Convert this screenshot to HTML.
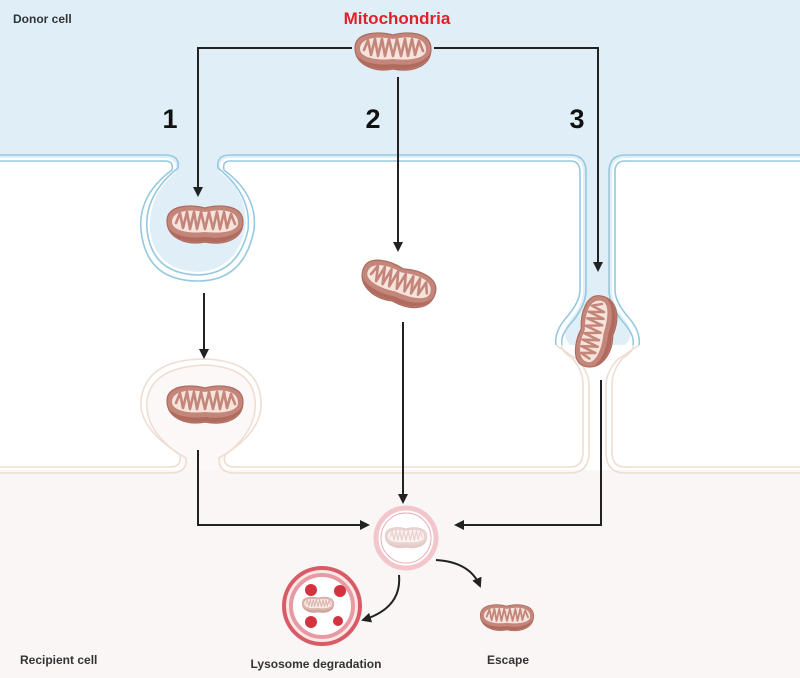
<!DOCTYPE html>
<html><head><meta charset="utf-8"><style>
body{margin:0;background:#fff}
svg{display:block}
text{font-family:"Liberation Sans",sans-serif;font-weight:bold}
</style></head><body>
<svg width="800" height="678" viewBox="0 0 800 678" xmlns="http://www.w3.org/2000/svg">
<defs>
<g id="mito">
<path d="M-38,-4 C-38,-20 -15,-21 0,-17 C15,-21 38,-20 38,-3 C38,14 20,21 0,17 C-20,21 -38,12 -38,-4Z" fill="#c4867a" stroke="#ad6b5f" stroke-width="1.2"/>
<path d="M-36,4 C-30,15 -15,19 0,16 C18,20 34,13 37,2 C30,12 15,14 0,12 C-18,14 -30,10 -36,4Z" fill="#b06a5e"/>
<path d="M-33,-3 C-33,-15 -14,-16 0,-13 C14,-16 33,-16 33,-2 C33,6 18,9 0,7 C-18,9 -33,5 -33,-3Z" fill="#f6e4dc"/>
<polyline points="-29,-2 -25,-12 -22,3 -18,-13 -15,4 -11,-13 -8,4 -4,-13 0,4 4,-13 8,4 12,-13 15,4 19,-13 22,3 26,-11 30,-1" fill="none" stroke="#c4867a" stroke-width="2.6" stroke-linejoin="round" stroke-linecap="round"/>
</g>
<marker id="ah" markerWidth="10" markerHeight="10" refX="8" refY="5" orient="auto" markerUnits="userSpaceOnUse"><path d="M0,0 L10,5 L0,10 Z" fill="#222"/></marker>
</defs>
<!-- recipient background -->
<rect x="0" y="470" width="800" height="208" fill="#faf6f6"/>
<!-- vesicle 2 interior -->
<path d="M183,470 Q182,458 180,455 Q144,430 147,400 Q152,367 205,365 Q252,367 255,400 Q258,430 225,455 Q222,465 222,470Z" fill="#fcf8f7"/>
<!-- donor top fill -->
<path d="M0,0 H800 V158 H625 Q612,158 612,172 V290 Q612,305 625,320 Q636,335 625,345 H570 Q560,335 570,320 Q583,305 583,290 V172 Q583,158 570,158 H230 Q218,158 220,172 Q250,195 245,230 Q235,270 198,272 Q155,270 150,230 Q148,195 176,172 Q178,158 165,158 H0Z" fill="#e0eff7"/>
<!-- blue membrane -->
<g fill="none" stroke="#95c8e1" stroke-width="1.6">
<path d="M0,155 H165 Q180,155 178,168 Q144,195 147,230 Q152,274 198,275 Q238,274 248,230 Q252,195 218,168 Q216,155 230,155 H570 Q586,155 586,172 V290 Q586,305 572,322 Q560,335 562,345"/>
<path d="M0,161 H165 Q174,161 172,170 Q138,195 141,230 Q146,281 198,281 Q244,281 254,230 Q258,195 224,170 Q222,161 230,161 H570 Q580,161 580,172 V290 Q580,302 566,318 Q554,332 556,345"/>
<path d="M800,155 H625 Q609,155 609,172 V290 Q609,305 623,322 Q635,335 633,345"/>
<path d="M800,161 H625 Q615,161 615,172 V290 Q615,302 629,318 Q641,332 639,345"/>
</g>
<!-- beige membrane -->
<g fill="none" stroke="#eeddd2" stroke-width="1.6">
<path d="M0,467 H170 Q182,467 180,455 Q144,430 147,400 Q152,367 205,365 Q252,367 255,400 Q258,430 225,455 Q222,467 235,467 H570 Q583,467 583,452 V385 Q583,370 572,358 Q560,350 562,345"/>
<path d="M0,473 H170 Q188,473 186,458 Q138,430 141,400 Q146,359 205,359 Q258,361 261,400 Q264,432 219,458 Q218,473 235,473 H570 Q589,473 589,452 V385 Q589,373 578,360 Q566,352 556,345"/>
<path d="M800,467 H625 Q612,467 612,452 V385 Q612,370 623,358 Q635,350 633,345"/>
<path d="M800,473 H625 Q606,473 606,452 V385 Q606,373 617,360 Q629,352 639,345"/>
</g>
<!-- mitochondria -->
<use href="#mito" transform="translate(393,52)"/>
<use href="#mito" transform="translate(205,225)"/>
<use href="#mito" transform="translate(398,285) rotate(18)"/>
<use href="#mito" transform="translate(597,332) rotate(-78) scale(0.95)"/>
<use href="#mito" transform="translate(205,405)"/>
<use href="#mito" transform="translate(507,618) scale(0.7)"/>
<!-- endosome -->
<circle cx="406" cy="538" r="30" fill="#fff" stroke="#f2c7cc" stroke-width="5"/>
<circle cx="406" cy="538" r="25" fill="none" stroke="#e9a9b0" stroke-width="1"/>
<g opacity="0.35"><use href="#mito" transform="translate(406,538) scale(0.55)"/></g>
<!-- lysosome -->
<circle cx="322" cy="606" r="38" fill="#fbe9ea" stroke="#d85b66" stroke-width="4"/>
<circle cx="322" cy="606" r="31" fill="#fff" stroke="#e89aa2" stroke-width="4"/>
<g opacity="0.6"><use href="#mito" transform="translate(318,605) scale(0.42)"/></g>
<g fill="#d3323f">
<circle cx="311" cy="590" r="6"/><circle cx="340" cy="591" r="6"/><circle cx="311" cy="622" r="6"/><circle cx="338" cy="621" r="5"/>
</g>
<!-- arrows -->
<g fill="none" stroke="#222" stroke-width="2">
<path d="M352,48 H198 V195" marker-end="url(#ah)"/>
<path d="M398,77 V250" marker-end="url(#ah)"/>
<path d="M434,48 H598 V270" marker-end="url(#ah)"/>
<path d="M204,293 V357" marker-end="url(#ah)"/>
<path d="M403,322 V502" marker-end="url(#ah)"/>
<path d="M198,450 V525 H368" marker-end="url(#ah)"/>
<path d="M601,380 V525 H456" marker-end="url(#ah)"/>
<path d="M399,575 Q402,608 363,620" marker-end="url(#ah)"/>
<path d="M436,560 Q470,562 480,586" marker-end="url(#ah)"/>
</g>
<!-- text -->
<text x="13" y="23" font-size="12" fill="#333">Donor cell</text>
<text x="397" y="24" font-size="17" fill="#e0202a" text-anchor="middle">Mitochondria</text>
<text x="170" y="128" font-size="27" fill="#111" text-anchor="middle">1</text>
<text x="373" y="128" font-size="27" fill="#111" text-anchor="middle">2</text>
<text x="577" y="128" font-size="27" fill="#111" text-anchor="middle">3</text>
<text x="20" y="664" font-size="12" fill="#333">Recipient cell</text>
<text x="316" y="668" font-size="12" fill="#333" text-anchor="middle">Lysosome degradation</text>
<text x="508" y="664" font-size="12" fill="#333" text-anchor="middle">Escape</text>
</svg>
</body></html>
